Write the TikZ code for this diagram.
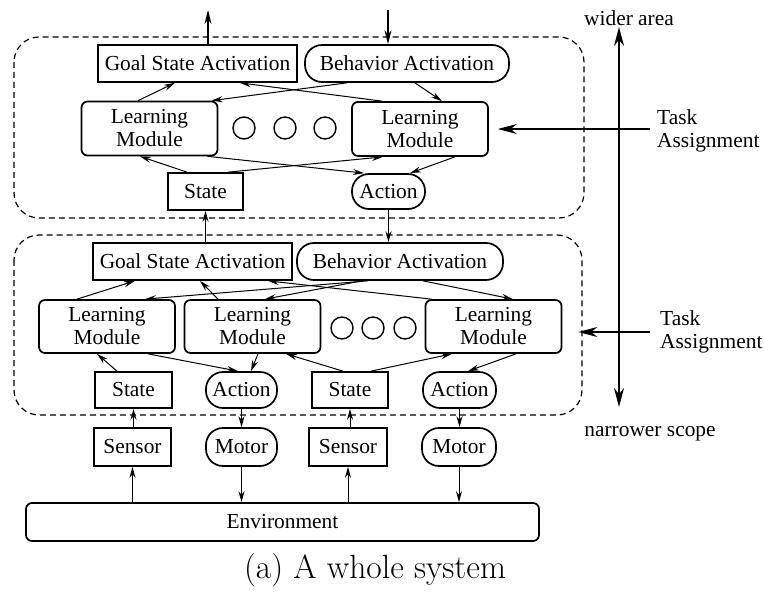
\documentclass[tikz,border=0pt]{standalone}
\usepackage{fontspec}
\newfontfamily\timesfont{Liberation Serif}
\usetikzlibrary{arrows.meta}

\begin{document}
\begin{tikzpicture}[x=1pt,y=-1pt,
  txt/.style={font=\timesfont\fontsize{21.4}{23}\selectfont},
  sqbox/.style={txt, draw, line width=1.7pt, inner sep=0pt, align=center},
  pillbox/.style={sqbox, rounded corners=17pt},
  modbox/.style={sqbox, rounded corners=6pt, minimum width=136pt, minimum height=54pt},
  dots/.style={circle, draw, line width=1.4pt, minimum size=22pt, inner sep=0pt},
  arr/.style={line width=1pt, -{Stealth[length=11pt,width=6pt]}},
  outarr/.style={line width=1.1pt, -{Stealth[length=14pt,width=7pt]}},
  bigarr/.style={line width=1.9pt, -{Stealth[length=19pt,width=10pt]}},
  scopebox/.style={dash pattern=on 6pt off 4pt, line width=1.2pt, rounded corners=25pt}]
\useasboundingbox (0,0) rectangle (764,599);

% ---------- upper level ----------
\draw[scopebox] (14,37) rectangle (584,218);
\node[sqbox, minimum width=199pt, minimum height=37pt] (gsa1) at (197.5,63.5) {Goal State Activation};
\node[pillbox, minimum width=204pt, minimum height=37pt] (ba1) at (407,63.5) {Behavior Activation};
\node[modbox] (lmL1) at (149.5,128.5) {Learning\\Module};
\node[modbox] (lmR1) at (420,129) {Learning\\Module};
\node[dots] (d11) at (244,128) {};
\node[dots] (d12) at (285,128) {};
\node[dots] (d13) at (325,128) {};
\node[sqbox, minimum width=75pt, minimum height=37pt] (st1) at (205.5,191.5) {State};
\node[pillbox, minimum width=73pt, minimum height=35pt] (ac1) at (388.5,191.5) {Action};

\coordinate (outUp) at (208,10);
\coordinate (inDown) at (388,10);
\draw[outarr] (gsa1.north -| outUp) -- (outUp);
\draw[outarr] (inDown) -- (ba1.north -| inDown);

\draw[arr] ([xshift=-11.5pt]lmL1.north) -- ([xshift=-22.5pt]gsa1.south);
\draw[arr] ([xshift=-60pt]ba1.south) -- ([xshift=62pt]lmL1.north);
\draw[arr] ([xshift=-38pt]lmR1.north) -- ([xshift=42.5pt]gsa1.south);
\draw[arr] ([xshift=8pt]ba1.south) -- ([xshift=22pt]lmR1.north);
\draw[arr] ([xshift=-18.5pt]st1.north) -- ([xshift=-9.5pt]lmL1.south);
\draw[arr] ([xshift=22.5pt]st1.north) -- ([xshift=-37pt]lmR1.south);
\draw[arr] ([xshift=58pt]lmL1.south) -- ([xshift=-24.5pt]ac1.north);
\draw[arr] ([xshift=35pt]lmR1.south) -- ([xshift=21.5pt]ac1.north);

% ---------- lower level ----------
\draw[scopebox] (14,235) rectangle (582,415);
\node[sqbox, minimum width=199pt, minimum height=37pt] (gsa2) at (192.5,261.5) {Goal State Activation};
\node[pillbox, minimum width=206pt, minimum height=37pt] (ba2) at (400,261.5) {Behavior Activation};
\node[modbox, minimum height=53pt] (lm1) at (107,326.5) {Learning\\Module};
\node[modbox, minimum height=53pt] (lm2) at (252.5,326.5) {Learning\\Module};
\node[modbox, minimum height=53pt] (lm3) at (493.5,326.5) {Learning\\Module};
\node[dots] (d21) at (342,328) {};
\node[dots] (d22) at (373,328) {};
\node[dots] (d23) at (405,328) {};
\node[sqbox, minimum width=77pt, minimum height=36pt] (s1) at (133.5,390) {State};
\node[pillbox, minimum width=71pt, minimum height=36pt] (a1) at (241.5,390) {Action};
\node[sqbox, minimum width=76pt, minimum height=36pt] (s2) at (350,390) {State};
\node[pillbox, minimum width=73pt, minimum height=36pt] (a2) at (459.5,390) {Action};

\draw[arr] (gsa2.north -| st1.south) -- (st1.south);
\draw[arr] (ac1.south) -- (ba2.north -| ac1.south);

\draw[arr] ([xshift=-30pt]lm1.north) -- ([xshift=-57.5pt]gsa2.south);
\draw[arr] ([xshift=-32pt]ba2.south) -- ([xshift=38pt]lm1.north);
\draw[arr] ([xshift=-34.5pt]lm2.north) -- ([xshift=7.5pt]gsa2.south);
\draw[arr] ([xshift=-38pt]ba2.south) -- ([xshift=12.5pt]lm2.north);
\draw[arr] ([xshift=-62pt]lm3.north) -- ([xshift=75.5pt]gsa2.south);
\draw[arr] ([xshift=23pt]ba2.south) -- ([xshift=19.5pt]lm3.north);

\draw[arr] ([xshift=-16.5pt]s1.north) -- ([xshift=-10pt]lm1.south);
\draw[arr] ([xshift=41pt]lm1.south) -- ([xshift=-3.5pt]a1.north);
\draw[arr] ([xshift=5.5pt]lm2.south) -- ([xshift=9.5pt]a1.north);
\draw[arr] ([xshift=-7pt]s2.north) -- ([xshift=33.5pt]lm2.south);
\draw[arr] ([xshift=21pt]s2.north) -- ([xshift=-41.5pt]lm3.south);
\draw[arr] ([xshift=22.5pt]lm3.south) -- ([xshift=8.5pt]a2.north);

% ---------- sensors, motors, environment ----------
\node[sqbox, minimum width=77pt, minimum height=38pt] (se1) at (132.5,447) {Sensor};
\node[pillbox, minimum width=71pt, minimum height=38pt] (mo1) at (241.5,447) {Motor};
\node[sqbox, minimum width=78pt, minimum height=38pt] (se2) at (348,447) {Sensor};
\node[pillbox, minimum width=74pt, minimum height=38pt] (mo2) at (459,447) {Motor};
\node[sqbox, rounded corners=6pt, minimum width=513pt, minimum height=38pt] (env) at (282.5,522) {Environment};

\draw[arr] (se1.north -| s1.south) -- (s1.south);
\draw[arr] (a1.south) -- (mo1.north -| a1.south);
\draw[arr] (se2.north -| s2.south) -- (s2.south);
\draw[arr] (a2.south) -- (mo2.north -| a2.south);
\draw[arr] (env.north -| se1.south) -- (se1.south);
\draw[arr] (mo1.south) -- (env.north -| mo1.south);
\draw[arr] (env.north -| se2.south) -- (se2.south);
\draw[arr] (mo2.south) -- (env.north -| mo2.south);

% ---------- scope axis and task assignment ----------
\coordinate (axTop) at (619,27);
\coordinate (axBot) at (619,407);
\draw[bigarr, {Stealth[length=19pt,width=10pt]}-{Stealth[length=19pt,width=10pt]}] (axBot) -- (axTop);
\node[txt, anchor=center] (wide) at (629,18) {wider area};
\node[txt, anchor=center] (narrow) at (650,434) {narrower scope};

\coordinate (ta1) at (650,129);
\coordinate (ta2) at (650,332);
\draw[bigarr, shorten >=9pt] (ta1) -- (ta1 -| lmR1.east);
\draw[bigarr, shorten >=16pt] (ta2) -- (ta2 -| lm3.east);
\node[txt, anchor=west, align=left, inner sep=0pt] (tal1) at (657,131) {Task\\Assignment};
\node[txt, anchor=west, align=left, inner sep=0pt] (tal2) at (660,332) {Task\\Assignment};

% ---------- caption ----------
\node[font=\fontsize{33.6}{40}\selectfont] (cap) at (375,570) {(a) A whole system};
\end{tikzpicture}
\end{document}
